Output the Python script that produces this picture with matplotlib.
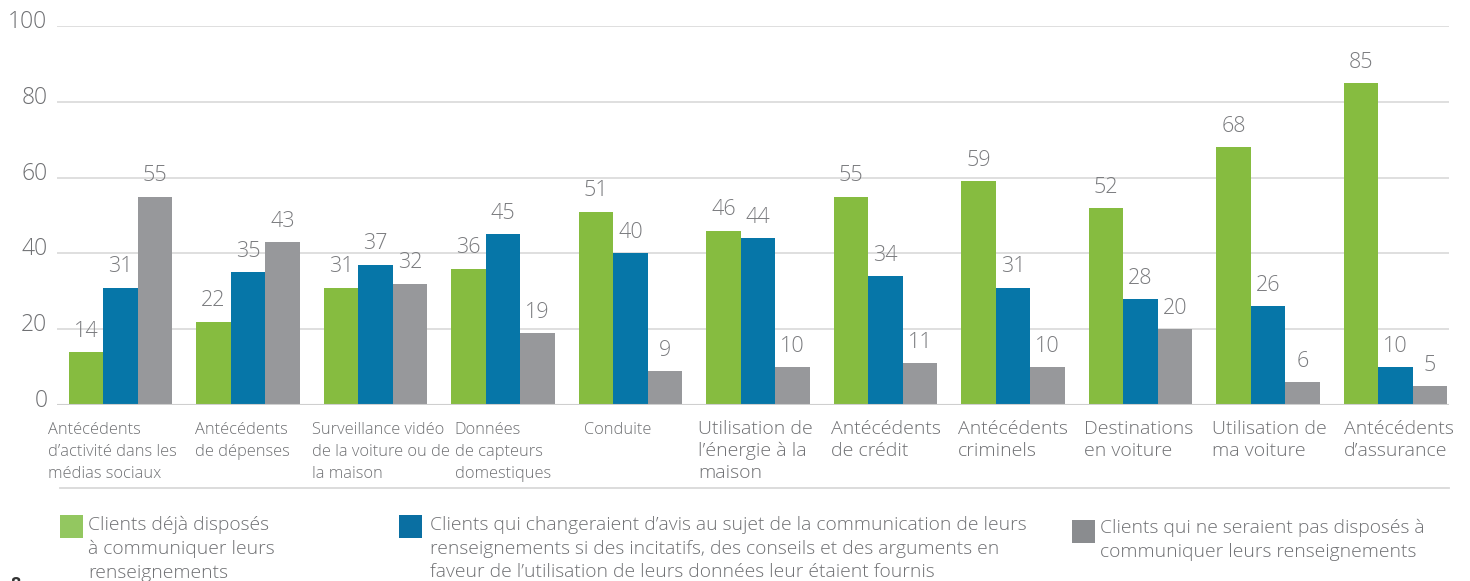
import matplotlib
matplotlib.use("Agg")
import matplotlib.pyplot as plt
from matplotlib.transforms import ScaledTranslation, blended_transform_factory
from matplotlib.patches import Rectangle
from matplotlib.lines import Line2D
import numpy as np

categories = [
    "Antécédents\nd’activité dans les\nmédias sociaux",
    "Antécédents\nde dépenses",
    "Surveillance vidéo\nde la voiture ou de\nla maison",
    "Données\nde capteurs\ndomestiques",
    "Conduite",
    "Utilisation de\nl’énergie à la\nmaison",
    "Antécédents\nde crédit",
    "Antécédents\ncriminels",
    "Destinations\nen voiture",
    "Utilisation de\nma voiture",
    "Antécédents\nd’assurance",
]
willing = [14, 22, 31, 36, 51, 46, 55, 59, 52, 68, 85]
persuadable = [31, 35, 37, 45, 40, 44, 34, 31, 28, 26, 10]
unwilling = [55, 43, 32, 19, 9, 10, 11, 10, 20, 6, 5]

series_labels = [
    "Clients déjà disposés\nà communiquer leurs\nrenseignements",
    "Clients qui changeraient d’avis au sujet de la communication de leurs\nrenseignements si des incitatifs, des conseils et des arguments en\nfaveur de l’utilisation de leurs données leur étaient fournis",
    "Clients qui ne seraient pas disposés à\ncommuniquer leurs renseignements",
]
yticks = [0, 20, 40, 60, 80, 100]

# styling
bar_colors = ["#86bc40", "#0676a8", "#97989b"]
legend_colors = ["#93c760", "#0a6fa2", "#8a8c8f"]
text_color = "#6f7073"
value_color = "#7a7b7e"
grid_color = "#d9d9d9"
font = ["Open Sans", "DejaVu Sans"]
plt.rcParams["font.family"] = font

W, H = 1470, 581
fig = plt.figure(figsize=(W / 100, H / 100), dpi=100)
ax = fig.add_axes([57 / W, (H - 405) / H, (1449 - 57) / W, (405 - 26) / H])

n = len(categories)
x = np.arange(n)
bw = 0.27
for k, (vals, col) in enumerate(zip([willing, persuadable, unwilling], bar_colors)):
    xs = x + (k - 1) * bw
    ax.bar(xs, vals, width=bw, color=col, zorder=3, linewidth=0)
    for xi, v in zip(xs, vals):
        ax.annotate(str(v), (xi, v), xytext=(0, 11), textcoords="offset points",
                    ha="center", va="baseline", fontsize=15.5, color=value_color,
                    fontweight="light", annotation_clip=False)

ax.set_xlim(-0.498, n - 1 + 0.42)
ax.set_ylim(0, 100)
ax.set_yticks(yticks)
ax.set_yticklabels([str(t) for t in yticks])
ax.tick_params(axis="y", length=0, pad=7, labelsize=16.5, labelcolor=text_color)
for lab in ax.get_yticklabels():
    lab.set_fontweight("light")
    lab.set_transform(lab.get_transform() + ScaledTranslation(0, 5.0 / 72, fig.dpi_scale_trans))
ax.set_xticks([])
for s in ax.spines.values():
    s.set_visible(False)
ax.grid(axis="y", color=grid_color, linewidth=1.2, zorder=0)
ax.axhline(0, color="#cfcfcf", linewidth=1.5, zorder=4)

# category labels
label_offsets = [-0.165, -0.012, -0.094, 0.027, 0.04, -0.067, -0.024, -0.027, -0.04, -0.035, 0.0]
label_sizes = [11.8, 11.8, 11.8, 11.8, 11.8, 14.0, 14.0, 14.0, 14.0, 14.0, 14.0]
label_drop = [16.5, 16.5, 16.5, 16.5, 16.5, 14.5, 14.5, 14.5, 14.5, 14.5, 14.5]
label_spacing = [1.52, 1.52, 1.52, 1.52, 1.52, 1.30, 1.30, 1.30, 1.30, 1.30, 1.30]
trans = blended_transform_factory(ax.transData, ax.transAxes)
for i, (cat, off, fs, dr, ls) in enumerate(zip(categories, label_offsets, label_sizes, label_drop, label_spacing)):
    ax.text(x[i] - 1.5 * bw + off, 0, cat,
            transform=trans + ScaledTranslation(0, -dr / 100, fig.dpi_scale_trans),
            ha="left", va="top", fontsize=fs, color=text_color,
            fontweight="light", linespacing=ls, clip_on=False)

# separator line below labels
fig.add_artist(Line2D([60 / W, 1449 / W], [(H - 488) / H] * 2, color=grid_color, linewidth=1.3))

# legend
legend_boxes = [(60, 515, 23), (399, 515, 23), (1072, 520, 23)]
legend_text = [(88, 516), (430, 516), (1100, 519)]
for (bx, by, bs), (tx, ty), lab, col in zip(legend_boxes, legend_text, series_labels, legend_colors):
    fig.add_artist(Rectangle((bx / W, (H - by - bs) / H), bs / W, bs / H, color=col,
                             transform=fig.transFigure, linewidth=0))
    fig.text(tx / W, (H - ty) / H, lab, ha="left", va="top", fontsize=13.85,
             color=text_color, fontweight="light", linespacing=1.40)

# page number
fig.text(10 / W, (H - 576) / H, "8", ha="left", va="top", fontsize=13, fontweight="bold", color="#333333")

fig.savefig("out.png", dpi=100)
